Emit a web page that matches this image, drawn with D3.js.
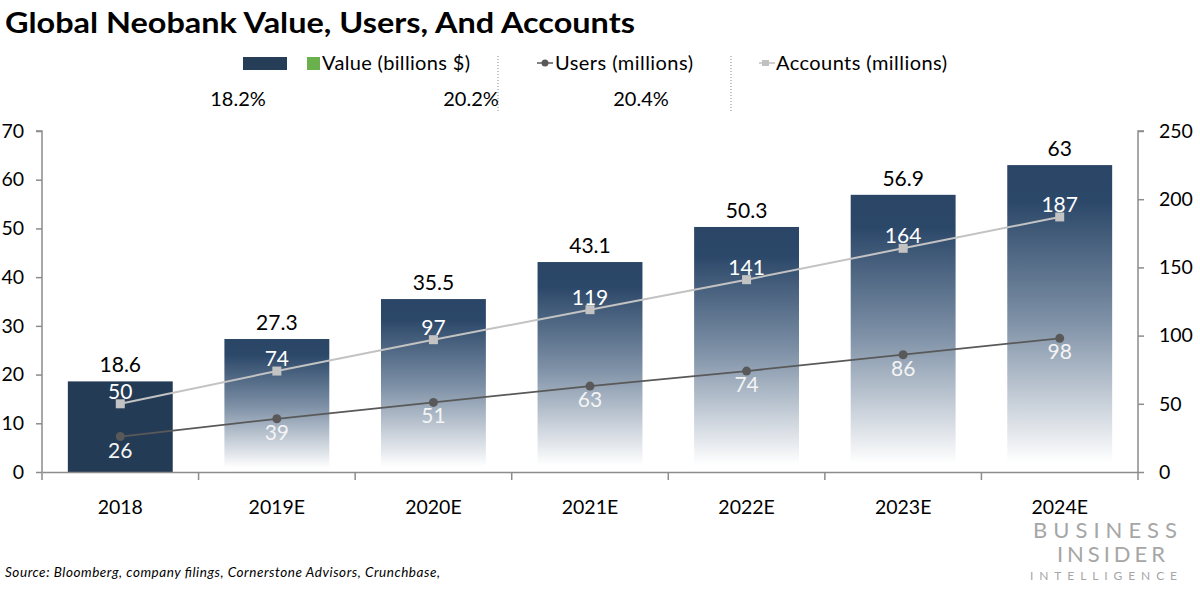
<!DOCTYPE html>
<html><head><meta charset="utf-8">
<script src="https://cdn.jsdelivr.net/npm/d3@7"></script>
<style>body{margin:0;background:#fff}svg{display:block}text{font-family:Lato,"Open Sans",sans-serif}</style>
</head><body><svg id="c" width="1200" height="600"></svg>
<script>
const categories = ["2018","2019E","2020E","2021E","2022E","2023E","2024E"];
const values = [18.6, 27.3, 35.5, 43.1, 50.3, 56.9, 63];
const users = [26, 39, 51, 63, 74, 86, 98];
const accounts = [50, 74, 97, 119, 141, 164, 187];
const leftTicks = [0,10,20,30,40,50,60,70];
const rightTicks = [0,50,100,150,200,250];
const cagrLabels = ["18.2%","20.2%","20.4%"];

const svg = d3.select("#c");
const L = 42, R = 1138, T = 131, B = 472;
const x = d3.scaleBand().domain(categories).range([L, R]).paddingInner(0.33).paddingOuter(0.165);
const xb = d3.scaleBand().domain(categories).range([L, R]);
const yL = d3.scaleLinear().domain([0,70]).range([B, T]);
const yR = d3.scaleLinear().domain([0,250]).range([B, T]);

const defs = svg.append("defs");
const g = defs.append("linearGradient").attr("id","grad").attr("x1",0).attr("y1",0).attr("x2",0).attr("y2",1);
g.append("stop").attr("offset",0).attr("stop-color","#2a4565");
g.append("stop").attr("offset",0.12).attr("stop-color","#2c4869");
g.append("stop").attr("offset",0.5).attr("stop-color","#7c8fa5");
g.append("stop").attr("offset",0.97).attr("stop-color","#ffffff");

// title
svg.append("text").attr("x",5).attr("y",33).attr("font-size",28).attr("font-weight",700)
  .attr("textLength",630).attr("lengthAdjust","spacingAndGlyphs").attr("fill","#000")
  .text("Global Neobank Value, Users, And Accounts");

// legend
svg.append("rect").attr("x",243).attr("y",57).attr("width",44).attr("height",13).attr("fill","#263d58");
svg.append("rect").attr("x",307).attr("y",57).attr("width",13).attr("height",13).attr("fill","#6ab04c");
svg.append("text").attr("x",322).attr("y",70).attr("font-size",20).attr("textLength",148).text("Value (billions $)");
svg.append("line").attr("x1",537).attr("x2",553).attr("y1",63).attr("y2",63).attr("stroke","#595959").attr("stroke-width",1.5);
svg.append("circle").attr("cx",545).attr("cy",63).attr("r",3.5).attr("fill","#595959");
svg.append("text").attr("x",555).attr("y",70).attr("font-size",20).attr("textLength",138).text("Users (millions)");
svg.append("line").attr("x1",759).attr("x2",775).attr("y1",63).attr("y2",63).attr("stroke","#c0c0c0").attr("stroke-width",1.5);
svg.append("rect").attr("x",762).attr("y",60).attr("width",7).attr("height",6).attr("fill","#c0c0c0");
svg.append("text").attr("x",776).attr("y",70).attr("font-size",20).attr("textLength",171).text("Accounts (millions)");
[498,731].forEach(xx=>svg.append("line").attr("x1",xx).attr("x2",xx).attr("y1",56).attr("y2",113)
  .attr("stroke","#888").attr("stroke-width",1).attr("stroke-dasharray","1,2"));
const cagrX = [238,471,641];
svg.selectAll("text.cagr").data(cagrLabels).join("text").attr("class","cagr")
  .attr("x",(d,i)=>cagrX[i]).attr("y",106).attr("text-anchor","middle").attr("font-size",20).text(d=>d);

// bars
svg.selectAll("rect.bar").data(values).join("rect").attr("class","bar")
  .attr("x",(d,i)=>x(categories[i])).attr("width",x.bandwidth())
  .attr("y",d=>yL(d)).attr("height",d=>B-yL(d))
  .attr("fill",(d,i)=>i===0?"#243b56":"url(#grad)");

// axes
const axisColor = "#8c8c8c";
const gl = svg.append("g").attr("transform",`translate(${L},0)`).call(d3.axisLeft(yL).tickValues(leftTicks).tickSize(6).tickFormat(d3.format("d")));
const gr = svg.append("g").attr("transform",`translate(${R},0)`).call(d3.axisRight(yR).tickValues(rightTicks).tickSize(6).tickFormat(d3.format("d")));
const gx = svg.append("g").attr("transform",`translate(0,${B})`).call(d3.axisBottom(xb).tickSize(0));
[gl,gr,gx].forEach(a=>{a.select(".domain").attr("stroke",axisColor).attr("stroke-width",1.5);
  a.selectAll(".tick line").attr("stroke",axisColor).attr("stroke-width",1.5);
  a.selectAll("text").attr("font-size",19.5).attr("fill","#000").attr("font-family","Lato,sans-serif");});
gl.select(".domain").attr("d",`M-6,${T}H0V${B+8}`);
gr.select(".domain").attr("d",`M6,${T}H0V${B+8}`);
gl.selectAll(".tick text").attr("x",-18);
gr.selectAll(".tick text").attr("x",21);
gx.selectAll(".tick text").attr("y",28);
// category boundary ticks on x axis
const bounds = categories.slice(1).map(c=>xb(c));
svg.selectAll("line.xt").data(bounds).join("line").attr("class","xt")
  .attr("x1",d=>d).attr("x2",d=>d).attr("y1",B).attr("y2",B+8).attr("stroke",axisColor).attr("stroke-width",1.5);

const cx = (i)=>x(categories[i])+x.bandwidth()/2;
// lines
const lineA = d3.line().x((d,i)=>cx(i)).y(d=>yR(d));
svg.append("path").attr("d",lineA(accounts)).attr("fill","none").attr("stroke","#c3c3c3").attr("stroke-width",2);
svg.append("path").attr("d",lineA(users)).attr("fill","none").attr("stroke","#595959").attr("stroke-width",1.8);
svg.selectAll("rect.am").data(accounts).join("rect").attr("class","am")
  .attr("x",(d,i)=>cx(i)-4.5).attr("y",d=>yR(d)-4.5).attr("width",9).attr("height",9).attr("fill","#c3c3c3");
svg.selectAll("circle.um").data(users).join("circle").attr("class","um")
  .attr("cx",(d,i)=>cx(i)).attr("cy",d=>yR(d)).attr("r",4.5).attr("fill","#595959");

// labels
svg.selectAll("text.vl").data(values).join("text").attr("class","vl")
  .attr("x",(d,i)=>cx(i)).attr("y",d=>yL(d)-9).attr("text-anchor","middle").attr("font-size",21).attr("fill","#000").text(d=>d);
svg.selectAll("text.al").data(accounts).join("text").attr("class","al")
  .attr("x",(d,i)=>cx(i)).attr("y",d=>yR(d)-5).attr("text-anchor","middle").attr("font-size",21).attr("fill","#fff").text(d=>d);
svg.selectAll("text.ul").data(users).join("text").attr("class","ul")
  .attr("x",(d,i)=>cx(i)).attr("y",d=>yR(d)+21).attr("text-anchor","middle").attr("font-size",21).attr("fill","#f4f4f4").text(d=>d);

// source
svg.append("text").attr("x",5).attr("y",577).attr("font-size",13.5).attr("font-style","italic")
  .attr("textLength",435).text("Source: Bloomberg, company filings, Cornerstone Advisors, Crunchbase,");

// logo
const lg = svg.append("g").attr("fill","#a6a6a6");
lg.append("text").attr("x",1033).attr("y",538).attr("font-size",22).attr("textLength",144).attr("lengthAdjust","spacing").text("BUSINESS");
lg.append("text").attr("x",1057).attr("y",562).attr("font-size",22).attr("textLength",108).attr("lengthAdjust","spacing").text("INSIDER");
lg.append("text").attr("x",1030).attr("y",580).attr("font-size",12).attr("textLength",147).attr("lengthAdjust","spacing").text("INTELLIGENCE");
</script></body></html>
